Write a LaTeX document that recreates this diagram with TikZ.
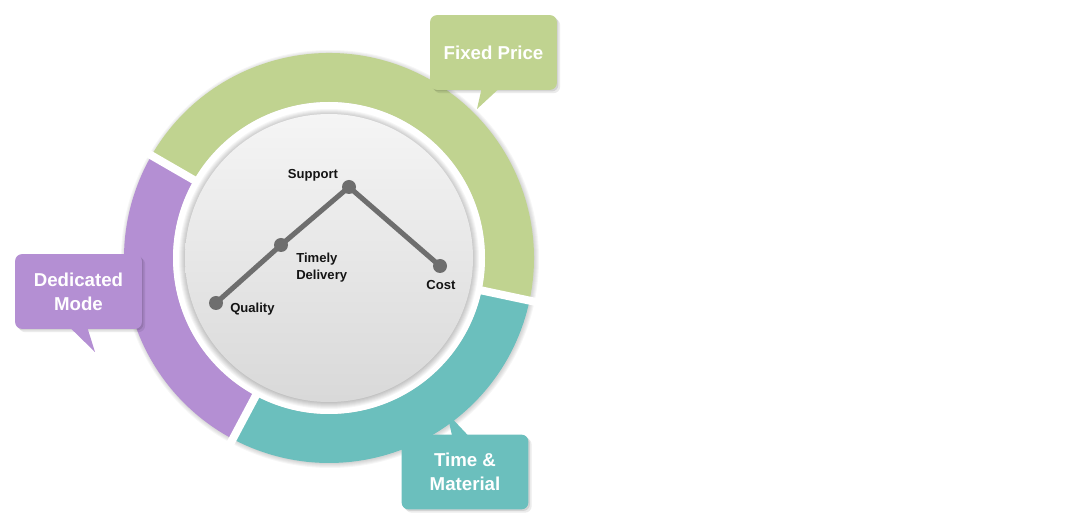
\documentclass[tikz,border=0pt]{standalone}
\usepackage{fontspec}
\setmainfont{Liberation Sans}
\usetikzlibrary{positioning,calc}

\definecolor{fixedgreen}{RGB}{192,211,144}
\definecolor{dedpurple}{RGB}{180,143,211}
\definecolor{tmteal}{RGB}{107,191,189}
\definecolor{linegray}{RGB}{110,110,110}

\begin{document}
\begin{tikzpicture}[x=0.75pt, y=0.75pt,
    segment/.style={fill=#1},
    gap/.style={white, line width=6pt},
    halo/.style={black, opacity=0.035},
    bubble/.style={rectangle, rounded corners=5pt, fill=#1, text=white,
      font=\bfseries\fontsize{14}{18}\selectfont, align=center,
      minimum width=95pt, minimum height=56pt, inner sep=0pt,
      preaction={fill=black, opacity=0.08, transform canvas={xshift=2.5pt, yshift=-2.5pt}},
      preaction={fill=black, opacity=0.10, transform canvas={xshift=1.2pt, yshift=-1.2pt}}},
    dot/.style={circle, fill=linegray, minimum size=10.5pt, inner sep=0pt},
    lbl/.style={font=\bfseries\fontsize{9.8}{12.6}\selectfont, text=black!92, align=left, inner sep=0pt},
  ]
  \useasboundingbox (0,0) rectangle (1079,525);

  % ring behind the chart
  \coordinate (C) at (329,267);
  \foreach \r in {205,206,...,209}
    \fill[halo] ($(C)+(1,-1)$) circle (\r);
  \fill[segment=fixedgreen] ($(C)+(150:205)$) arc (150:-12:205) -- ($(C)+(-12:156)$) arc (-12:150:156) -- cycle;
  \fill[segment=tmteal] ($(C)+(-12:205)$) arc (-12:-118:205) -- ($(C)+(-118:156)$) arc (-118:-12:156) -- cycle;
  \fill[segment=dedpurple] ($(C)+(242:205)$) arc (242:150:205) -- ($(C)+(150:156)$) arc (150:242:156) -- cycle;
  \fill[white] (C) circle (156);
  \draw[gap] ($(C)+(150:150)$) -- ($(C)+(150:212)$);
  \draw[gap] ($(C)+(-12:150)$) -- ($(C)+(-12:212)$);
  \draw[gap] ($(C)+(-118:150)$) -- ($(C)+(-118:212)$);

  % inner disc
  \foreach \r in {144,145,...,150}
    \fill[halo] ($(C)+(0,-1)$) circle (\r);
  \shade[top color=white!96!black, bottom color=white!85!black] (C) circle (144);

  % chart
  \node[dot] (quality) at (216,222) {};
  \node[dot] (timely) at (281,280) {};
  \node[dot] (support) at (349,338) {};
  \node[dot] (cost) at (440,259) {};
  \draw[linegray, line width=3.8pt] (quality.center) -- (timely.center) -- (support.center) -- (cost.center);

  \node[lbl] (supportLbl) at (313,350) {Support};
  \node[lbl, anchor=west] (timelyLbl) at (296,257) {Timely\\Delivery};
  \node[lbl, anchor=west] (qualityLbl) at (230,216) {Quality};
  \node[lbl] (costLbl) at (441,240) {Cost};

  % callouts
  \coordinate (fixedTip) at (477,416);
  \coordinate (dedTip) at (95,173);
  \coordinate (tmTip) at (447,112);
  \node[bubble=fixedgreen] (fixed) at (493.5,472.5) {Fixed Price};
  \node[bubble=dedpurple] (dedicated) at (78.5,233.5) {Dedicated\\Mode};
  \node[bubble=tmteal] (timematerial) at (465,53) {Time \&\\Material};
  \fill[fixedgreen] ($(fixed.south)+(-12,1)$) -- (fixedTip) -- ($(fixed.south)+(5,1)$) -- cycle;
  \fill[dedpurple] ($(dedicated.south)+(-8,1)$) -- (dedTip) -- ($(dedicated.south)+(9,1)$) -- cycle;
  \fill[tmteal] ($(timematerial.north)+(-13,-1)$) -- (tmTip) -- ($(timematerial.north)+(3,-1)$) -- cycle;
\end{tikzpicture}
\end{document}
